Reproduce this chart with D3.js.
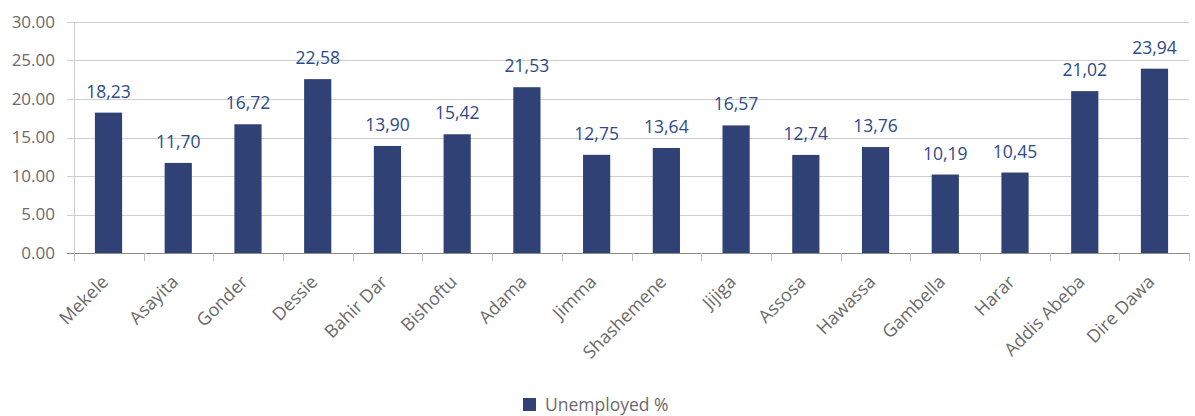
<!DOCTYPE html>
<html>
<head>
<meta charset="utf-8">
<script src="https://cdn.jsdelivr.net/npm/d3@7"></script>
<style>
  body { margin: 0; background: #fff; }
  svg text { font-family: "Open Sans", Lato, sans-serif; }
</style>
</head>
<body>
<svg id="chart" width="1195" height="416"></svg>
<script>
// Unemployment rate by city
const cities = ["Mekele", "Asayita", "Gonder", "Dessie", "Bahir Dar", "Bishoftu", "Adama", "Jimma",
  "Shashemene", "Jijiga", "Assosa", "Hawassa", "Gambella", "Harar", "Addis Abeba", "Dire Dawa"];
const unemployed = [18.23, 11.70, 16.72, 22.58, 13.90, 15.42, 21.53, 12.75,
  13.64, 16.57, 12.74, 13.76, 10.19, 10.45, 21.02, 23.94];
const yTicks = [0, 5, 10, 15, 20, 25, 30];
const seriesName = "Unemployed %";

const svg = d3.select("#chart");
const x0 = 74, x1 = 1189;
const yBase = 253, yTop = 22;

const x = d3.scaleBand().domain(cities).range([x0, x1]).paddingInner(0.61).paddingOuter(0.3);
const xEdges = d3.scaleLinear().domain([0, cities.length]).range([x0, x1]);
const y = d3.scaleLinear().domain([0, 30]).range([yBase, yTop]);

const barColor = "#2f4175";
const labelColor = "#2e4a8b";
const textGray = "#6b6b6b";

// gridlines
svg.append("g").selectAll("line").data(yTicks.filter(d => d > 0)).join("line")
  .attr("x1", x0 - 7).attr("x2", x1)
  .attr("y1", d => Math.round(y(d)) + 0.5).attr("y2", d => Math.round(y(d)) + 0.5)
  .attr("stroke", "#cfcfcf").attr("stroke-width", 1);

// y axis vertical line
svg.append("line").attr("x1", x0 + 0.5).attr("x2", x0 + 0.5)
  .attr("y1", y(30)).attr("y2", yBase)
  .attr("stroke", "#cfcfcf");

// y tick labels
svg.append("g").selectAll("text").data(yTicks).join("text")
  .attr("x", 55).attr("y", d => y(d)).attr("dy", "0.35em")
  .attr("text-anchor", "end").attr("font-size", 17).attr("fill", textGray)
  .text(d => d.toFixed(2));

// bars
svg.append("g").selectAll("rect").data(cities).join("rect")
  .attr("x", d => x(d)).attr("width", x.bandwidth())
  .attr("y", (d, i) => y(unemployed[i]))
  .attr("height", (d, i) => yBase - y(unemployed[i]))
  .attr("fill", barColor);

// value labels
svg.append("g").selectAll("text").data(cities).join("text")
  .attr("x", d => x(d) + x.bandwidth() / 2)
  .attr("y", (d, i) => y(unemployed[i]) - 15)
  .attr("text-anchor", "middle").attr("font-size", 17.5).attr("fill", labelColor)
  .text((d, i) => unemployed[i].toFixed(2).replace(".", ","));

// x axis baseline and tick marks
svg.append("line").attr("x1", x0 - 7).attr("x2", x1)
  .attr("y1", yBase + 0.5).attr("y2", yBase + 0.5)
  .attr("stroke", "#8a8a8a").attr("stroke-width", 1.2);
svg.append("g").selectAll("line").data(d3.range(cities.length + 1)).join("line")
  .attr("x1", d => Math.round(xEdges(d)) + 0.5).attr("x2", d => Math.round(xEdges(d)) + 0.5)
  .attr("y1", yBase).attr("y2", yBase + 8)
  .attr("stroke", "#bdbdbd");

// category labels
svg.append("g").selectAll("text").data(cities).join("text")
  .attr("transform", d => `translate(${x(d) + x.bandwidth() / 2 + 1},${yBase + 30}) rotate(-45)`)
  .attr("text-anchor", "end").attr("font-size", 18).attr("fill", textGray)
  .text(d => d);

// legend
const lg = svg.append("g").attr("transform", "translate(523,398)");
lg.append("rect").attr("width", 13).attr("height", 13).attr("fill", barColor);
lg.append("text").attr("x", 22).attr("y", 7).attr("dy", "0.35em")
  .attr("font-size", 17.5).attr("fill", textGray).text(seriesName);
</script>
</body>
</html>
